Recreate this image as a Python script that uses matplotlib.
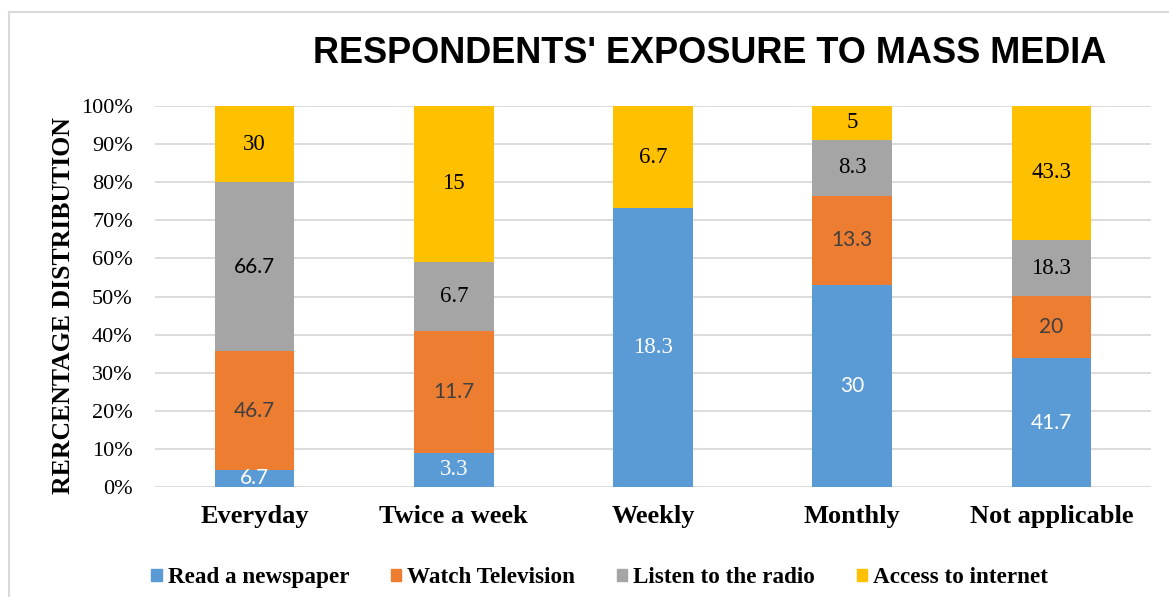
import matplotlib.pyplot as plt
from matplotlib.patches import Rectangle, Patch
import numpy as np

# data (raw counts, plotted as share of each category)
categories = ['Everyday', 'Twice a week', 'Weekly', 'Monthly', 'Not applicable']
series = ['Read a newspaper', 'Watch Television', 'Listen to the radio', 'Access to internet']
newspaper = [6.7, 3.3, 18.3, 30, 41.7]
television = [46.7, 11.7, 0, 13.3, 20]
radio = [66.7, 6.7, 0, 8.3, 18.3]
internet = [30, 15, 6.7, 5, 43.3]

colors = ['#5b9bd5', '#ed7d31', '#a5a5a5', '#ffc000']
label_colors = ['white', '#404040', 'black', 'black']
# which labels were rendered in a sans font in the original
sans_labels = [[True, False, False, True, True],
               [True, True, True, True, True],
               [True, False, False, False, False],
               [False, False, False, False, False]]

serif = 'Liberation Serif'
sans = 'Lato'

values = np.array([newspaper, television, radio, internet])
shares = values / values.sum(axis=0) * 100

fig = plt.figure(figsize=(11.69, 5.97), dpi=100)
fig.patches.append(Rectangle((9 / 1169, -0.1), 1.2, 1 - 12 / 597 + 0.1,
                             transform=fig.transFigure, fill=False,
                             edgecolor='#d9d9d9', linewidth=1.5))

ax = fig.add_axes([155 / 1169, 1 - 487 / 597, 996 / 1169, 381 / 597])
x = np.arange(len(categories))
bottom = np.zeros(len(categories))
for i in range(len(series)):
    ax.bar(x, shares[i], 0.4, bottom=bottom, color=colors[i], zorder=2)
    for j in range(len(categories)):
        if values[i, j] > 0:
            ax.text(x[j], bottom[j] + shares[i, j] / 2, f'{values[i, j]:g}',
                    ha='center', va='center', color=label_colors[i],
                    fontfamily=sans if sans_labels[i][j] else serif,
                    fontsize=15 if sans_labels[i][j] else 16.5, zorder=3)
    bottom += shares[i]

ax.set_xlim(-0.5, len(categories) - 0.5)
ax.set_ylim(0, 100)
ax.set_yticks(np.arange(0, 101, 10))
ax.set_yticklabels([f'{v}%' for v in range(0, 101, 10)], family=serif, fontsize=16)
ax.set_xticks(x)
ax.set_xticklabels(categories, family=serif, fontsize=19, fontweight='bold')
ax.tick_params(axis='y', length=0, pad=16)
ax.tick_params(axis='x', length=0, pad=13)
ax.grid(axis='y', color='#d9d9d9', linewidth=1.3, zorder=0)
for s in ax.spines.values():
    s.set_visible(False)

ax.set_ylabel('RERCENTAGE DISTRIBUTION', family=serif, fontsize=18.5, fontweight='bold')
ax.yaxis.set_label_coords(-0.08, 0.476)

fig.text(0.607, 0.911, "RESPONDENTS' EXPOSURE TO MASS MEDIA", ha='center', va='center',
         family='Liberation Sans', fontsize=26, fontweight='bold')

handles = [Patch(color=c) for c in colors]
fig.legend(handles, series, loc='center', bbox_to_anchor=(0.513, 0.032), ncol=4,
           frameon=False, handlelength=0.45, handleheight=0.45, handletextpad=0.25,
           columnspacing=1.8, prop={'family': serif, 'size': 16.7, 'weight': 'bold'})

fig.savefig('out.png', dpi=100)
